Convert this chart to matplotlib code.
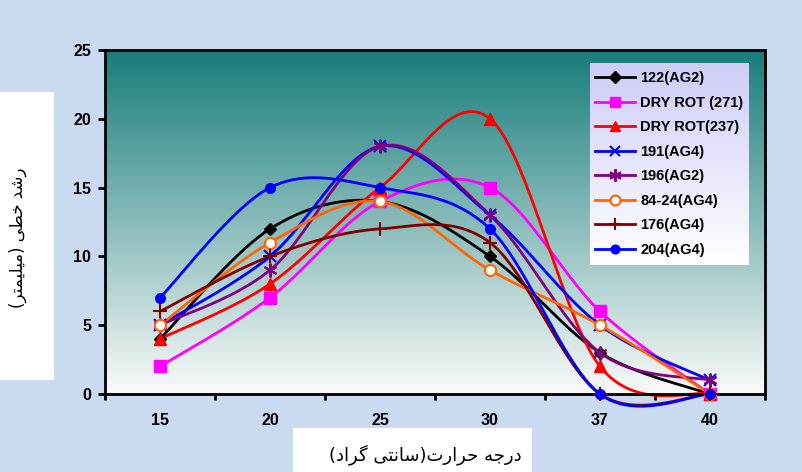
import numpy as np
import matplotlib.pyplot as plt
from matplotlib.lines import Line2D
from matplotlib.patches import Rectangle

temps = ['15', '20', '25', '30', '37', '40']
yticks = [0, 5, 10, 15, 20, 25]

s122 = [4, 12, 14, 10, 3, 0]
s271 = [2, 7, 14, 15, 6, 0]
s237 = [4, 8, 15, 20, 2, 0]
s191 = [5, 10, 18, 13, 5, 1]
s196 = [5, 9, 18, 13, 3, 1]
s8424 = [5, 11, 14, 9, 5, 0]
s176 = [6, 10, 12, 11, 0, 0]
s204 = [7, 15, 15, 12, 0, 0]

labels = ['122(AG2)', 'DRY ROT (271)', 'DRY ROT(237)', '191(AG4)',
          '196(AG2)', '84-24(AG4)', '176(AG4)', '204(AG4)']
series = [s122, s271, s237, s191, s196, s8424, s176, s204]

# colour, marker, size, face, edge width
styles = [
    ('#000000', 'D', 6.5, '#000000', 1.0),
    ('#FF00FF', 's', 8, '#FF00FF', 1.0),
    ('#FF0000', '^', 8, '#FF0000', 1.0),
    ('#0000FF', 'x', 8, '#0000FF', 1.5),
    ('#800080', (6, 2, 0), 10, '#800080', 1.5),
    ('#FF6600', 'o', 8, '#FFFFFF', 1.5),
    ('#800000', '+', 10, '#800000', 1.5),
    ('#0000FF', 'o', 7, '#0000FF', 1.0),
]

# Persian labels, shaped by hand (visual order, presentation forms)
xlab = ('(' + '\uFEA9\uFE8D\uFEAE\uFB94' + ' ' + '\uFEF0\uFE98\uFEE7\uFE8E\uFEB3' + ')'
        + '\uFE95\uFEAD\uFE8D\uFEAE\uFEA3' + ' ' + '\uFEEA\uFE9F\uFEAD\uFEA9')
ylab = ('(' + '\uFEAE\uFE98\uFEE4\uFEF4\uFEE0\uFEF4\uFEE3' + ')' + ' '
        + '\uFEF0\uFEC4\uFEA7' + ' ' + '\uFEAA\uFEB7\uFEAD')


def smooth(xs, ys, n=40):
    # excel-like smoothed line (bezier, control points at 1/6 of neighbour span)
    pts = np.column_stack([xs, ys]).astype(float)
    out = [pts[0]]
    t = np.linspace(0, 1, n)[1:, None]
    for i in range(len(pts) - 1):
        p0, p1 = pts[max(i - 1, 0)], pts[i]
        p2, p3 = pts[i + 1], pts[min(i + 2, len(pts) - 1)]
        c1 = p1 + (p2 - p0) / 6
        c2 = p2 - (p3 - p1) / 6
        seg = (1 - t)**3 * p1 + 3 * (1 - t)**2 * t * c1 + 3 * (1 - t) * t**2 * c2 + t**3 * p2
        out.extend(seg)
    return np.array(out)


plt.rcParams['font.family'] = ['Liberation Sans', 'DejaVu Sans']

fig = plt.figure(figsize=(8.02, 4.72), dpi=100, facecolor='#CADAF1')

W, H = 802, 472
# white boxes behind axis titles
fig.patches.append(Rectangle((0, 1 - 380 / H), 54 / W, 288 / H, transform=fig.transFigure,
                             facecolor='white', edgecolor='none', zorder=0))
fig.patches.append(Rectangle((293 / W, 0), 239 / W, 44 / H, transform=fig.transFigure,
                             facecolor='white', edgecolor='none', zorder=0))

ax = fig.add_axes([105 / W, 1 - 394 / H, 660 / W, 344 / H])
x = np.arange(len(temps))
ax.set_xlim(-0.5, len(temps) - 0.5)
ax.set_ylim(0, 25)

top = np.array([23, 125, 122]) / 255
bot = np.array([250, 250, 250]) / 255
g = np.linspace(0, 1, 256)[:, None]
grad = (top * (1 - g) + bot * g)[:, None, :]
ax.imshow(grad, extent=[-0.5, len(temps) - 0.5, 0, 25], aspect='auto', zorder=0)

for ys, (c, m, ms, fc, mew) in zip(series, styles):
    sm = smooth(x, ys)
    ax.plot(sm[:, 0], sm[:, 1], color=c, lw=2, zorder=2, clip_on=False)
    ax.plot(x, ys, ls='none', marker=m, ms=ms, mfc=fc, mec=c, mew=mew, zorder=3, clip_on=False)

ax.set_xticks(x)
ax.set_xticklabels(temps, fontsize=11.5, fontweight='bold')
ax.set_xticks(np.arange(len(temps) + 1) - 0.5, minor=True)
ax.tick_params(axis='x', which='major', length=0, pad=14)
ax.tick_params(axis='x', which='minor', length=4.5, width=2, direction='out')
ax.set_yticks(yticks)
ax.set_yticklabels([str(v) for v in yticks], fontsize=11.5, fontweight='bold')
ax.tick_params(axis='y', length=5, width=2, pad=5)
for sp in ax.spines.values():
    sp.set_linewidth(2)

fig.text(425 / W, 1 - 455 / H, xlab, ha='center', va='center', fontsize=13,
         family=['DejaVu Sans'])
fig.text(18 / W, 1 - 238 / H, ylab, ha='center', va='center', fontsize=12,
         rotation=90, family=['DejaVu Sans'])

# legend on a small gradient panel
lax = fig.add_axes([590 / W, 1 - 265 / H, 158 / W, 202 / H])
lg = np.linspace(0, 1, 256)[:, None]
ltop = np.array([205, 205, 248]) / 255
lbot = np.array([255, 255, 255]) / 255
lax.imshow((ltop * (1 - lg) + lbot * lg)[:, None, :], extent=[0, 1, 0, 1], aspect='auto')
lax.set_xlim(0, 1)
lax.set_ylim(0, 1)
lax.axis('off')
handles = [Line2D([], [], color=c, lw=2, marker=m, ms=ms * 0.9, mfc=fc, mec=c, mew=mew)
           for c, m, ms, fc, mew in styles]
lax.legend(handles, labels, loc='center left', bbox_to_anchor=(5 / 158, 0.5), frameon=False,
           prop={'weight': 'bold', 'size': 10.5}, handlelength=2.75, labelspacing=0.72,
           handletextpad=0.35, borderpad=0, borderaxespad=0)

fig.savefig('out.png', dpi=100, facecolor=fig.get_facecolor())
